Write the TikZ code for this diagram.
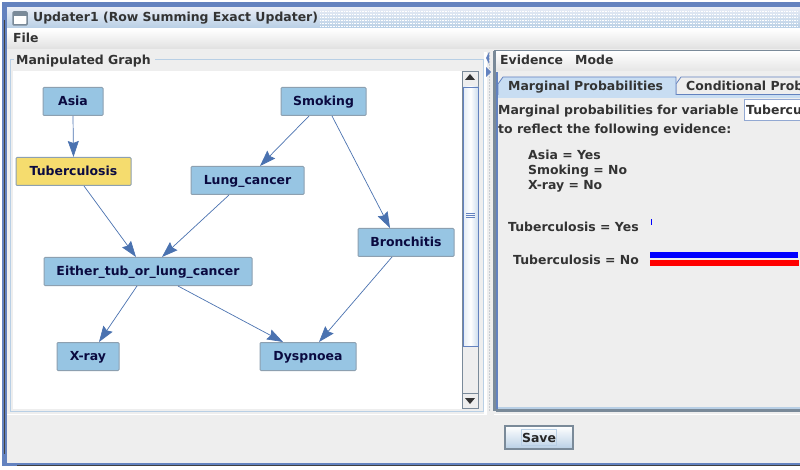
\documentclass[tikz,border=0pt]{standalone}
\usepackage{fontspec}
\setmainfont{DejaVu Sans}
\usetikzlibrary{arrows.meta,positioning}
\definecolor{winblue}{HTML}{6382BF}
\definecolor{panel}{HTML}{EEEEEE}
\definecolor{nodeblue}{HTML}{97C5E3}
\definecolor{nodeyellow}{HTML}{F5DC6E}
\definecolor{nodeline}{HTML}{8DA0B0}
\definecolor{edgeblue}{HTML}{4A72B0}
\definecolor{txt}{HTML}{333333}
\definecolor{navy}{HTML}{0A0A40}
\definecolor{lightb}{HTML}{B8CFE5}
\definecolor{tabb}{HTML}{C8DDF2}
\definecolor{steel}{HTML}{7A8A99}
\tikzset{
  gnode/.style={draw=nodeline,line width=1pt,fill=nodeblue,rounded corners=1pt,minimum height=28pt,inner sep=0pt,text=navy,text height=9pt,text depth=1.5pt,font=\fontsize{12.45pt}{14pt}\selectfont\bfseries,anchor=center},
  edge/.style={draw=edgeblue,line width=0.7pt,-{Stealth[length=16pt,width=11pt,inset=2pt,fill=edgeblue]}},
  ui/.style={text=txt,font=\fontsize{12.45pt}{14pt}\selectfont\bfseries,inner sep=0pt,anchor=base west}
}
\begin{document}
\begin{tikzpicture}[x=1pt,y=-1pt]
\useasboundingbox (0,0) rectangle (800,470);
% window
\fill[white] (0,0) rectangle (800,470);
\fill[winblue] (2,2) rectangle (800,466);
\fill[panel] (7,8) rectangle (800,463);
\draw[black!75,line width=0.6pt] (4,20) -- (4,454);
\draw[black!75,line width=0.6pt] (17,465) -- (800,465);
% title bar
\shade[top color=white!85!winblue,bottom color=lightb] (7,8) rectangle (800,28);
\foreach \y in {11,14,...,26}{\draw[white,densely dotted,line width=0.6pt] (320,\y) -- (798,\y);}
\draw[steel,line width=1.5pt,fill=white,rounded corners=1pt] (13,12) rectangle (27,25);
\fill[steel] (13,12) rectangle (27,16);
\node[ui] (title) at (33,22) {Updater1 (Row Summing Exact Updater)};
% menu
\shade[top color=white,bottom color=black!12] (7,29) rectangle (800,49);
\node[ui] (file) at (13,43) {File};
% left panel
\draw[lightb,line width=1pt] (10,60) rectangle (483,411);
\fill[panel] (14,52) rectangle (155,68);
\fill[white] (13,71) rectangle (462,409);
\node[ui] (mg) at (16,65) {Manipulated Graph};
% scrollbar
\fill[panel] (462,71) rectangle (478,409);
\draw[steel,line width=0.7pt] (462.5,71) rectangle (478,408);
\shade[left color=lightb!40,right color=lightb!70!white,middle color=white] (463,87) rectangle (478,346);
\draw[winblue,line width=0.8pt] (463,87) rectangle (478,346);
\draw[steel,line width=0.7pt] (462.5,393) -- (478,393);
\fill[black!80] (470,74) -- (475,80) -- (465,80) -- cycle;
\fill[black!80] (465,398) -- (475,398) -- (470,404) -- cycle;
\foreach \y in {213,215,217}{\draw[winblue,line width=0.6pt] (466,\y) -- (475,\y);}
% divider
\fill[white] (484,52) rectangle (487,414);
\foreach \y in {53,56,...,410}{\fill[steel] (489.5,\y) circle (0.5pt);}
\fill[winblue] (489,52) -- (486,58) -- (489,64) -- cycle;
\fill[winblue] (486,67) -- (491,72) -- (486,77) -- cycle;
% right panel
\shade[top color=white,bottom color=black!10] (494,51) rectangle (800,71);
\draw[steel,line width=1pt] (494,50.5) -- (800,50.5);
\fill[steel] (493,51) rectangle (496,411);
\fill[winblue] (496,72) rectangle (498,409);
\fill[tabb] (498,95) rectangle (800,98);
\node[ui] (ev) at (500,65) {Evidence};
\node[ui] (mode) at (575,65) {Mode};
% tabs
\draw[winblue,line width=0.8pt] (676,94.5) -- (800,94.5);
\draw[winblue,line width=0.8pt,fill=panel] (676,94) -- (676,84) -- (681,77) -- (800,77);
\draw[winblue,line width=0.8pt,fill=tabb] (498,95) -- (498,84) -- (503,77) -- (676,77) -- (676,95);
\fill[tabb] (499,94) rectangle (675,98);
\node[ui] (tab1) at (508,91) {Marginal Probabilities};
\begin{scope}
\clip (681,70) rectangle (800,100);
\node[ui] (tab2) at (686,91) {Conditional Probabilities};
\end{scope}
% content
\node[ui] (l1) at (498,115) {Marginal probabilities for variable};
\draw[winblue!70,line width=1pt,fill=white] (744,100) rectangle (801,121);
\begin{scope}
\clip (746,100) rectangle (800,121);
\node[ui] (cb) at (746,115) {Tuberculosis};
\end{scope}
\node[ui] (l2) at (498,134) {to reflect the following evidence:};
\node[ui] (e1) at (528,160) {Asia = Yes};
\node[ui] (e2) at (528,175) {Smoking = No};
\node[ui] (e3) at (528,190) {X-ray = No};
\node[ui] (ty) at (508,232) {Tuberculosis = Yes};
\node[ui] (tn) at (513,265) {Tuberculosis = No};
\fill[blue] (651,219) rectangle (652,225);
\fill[blue] (650,252) rectangle (798,258);
\fill[red] (650,260) rectangle (799,266);
% right panel bottom
\fill[lightb] (498,407) rectangle (800,409);
\fill[steel] (496,409) rectangle (800,412);
\draw[white,line width=1pt] (494,414) -- (800,414);
\draw[white,line width=1pt] (7,414) -- (487,414);
% save button
\shade[top color=white,bottom color=lightb] (505,426) rectangle (573,449);
\draw[steel,line width=2pt] (505,426) rectangle (573,449);
\draw[lightb,line width=0.7pt] (521.5,429.5) rectangle (556.5,445.5);
\node[ui,anchor=base,text=black!85] (save) at (539,442.5) {Save};
% graph
\node[gnode,minimum width=60pt] (asia) at (73,101.5) {Asia};
\node[gnode,minimum width=85pt] (smoking) at (323.5,101.5) {Smoking};
\node[gnode,minimum width=115pt,fill=nodeyellow] (tb) at (73.5,171.5) {Tuberculosis};
\node[gnode,minimum width=113pt] (lung) at (247.5,180.5) {Lung\_cancer};
\node[gnode,minimum width=96pt] (bron) at (406,242.5) {Bronchitis};
\node[gnode,minimum width=208pt] (either) at (148,271.5) {Either\_tub\_or\_lung\_cancer};
\node[gnode,minimum width=62pt] (xray) at (88,356.5) {X-ray};
\node[gnode,minimum width=96pt] (dysp) at (308,356.5) {Dyspnoea};
\draw[edge] (asia.south) -- (tb.north);
\draw[edge] ([xshift=-14.5pt]smoking.south) -- ([xshift=12.5pt]lung.north);
\draw[edge] ([xshift=8.5pt]smoking.south) -- ([xshift=-16pt]bron.north);
\draw[edge] ([xshift=10.5pt]tb.south) -- ([xshift=-12pt]either.north);
\draw[edge] ([xshift=-18.5pt]lung.south) -- ([xshift=14pt]either.north);
\draw[edge] ([xshift=-14pt]bron.south) -- ([xshift=11pt]dysp.north);
\draw[edge] ([xshift=-11pt]either.south) -- ([xshift=11pt]xray.north);
\draw[edge] ([xshift=30pt]either.south) -- ([xshift=-25pt]dysp.north);
\end{tikzpicture}
\end{document}
